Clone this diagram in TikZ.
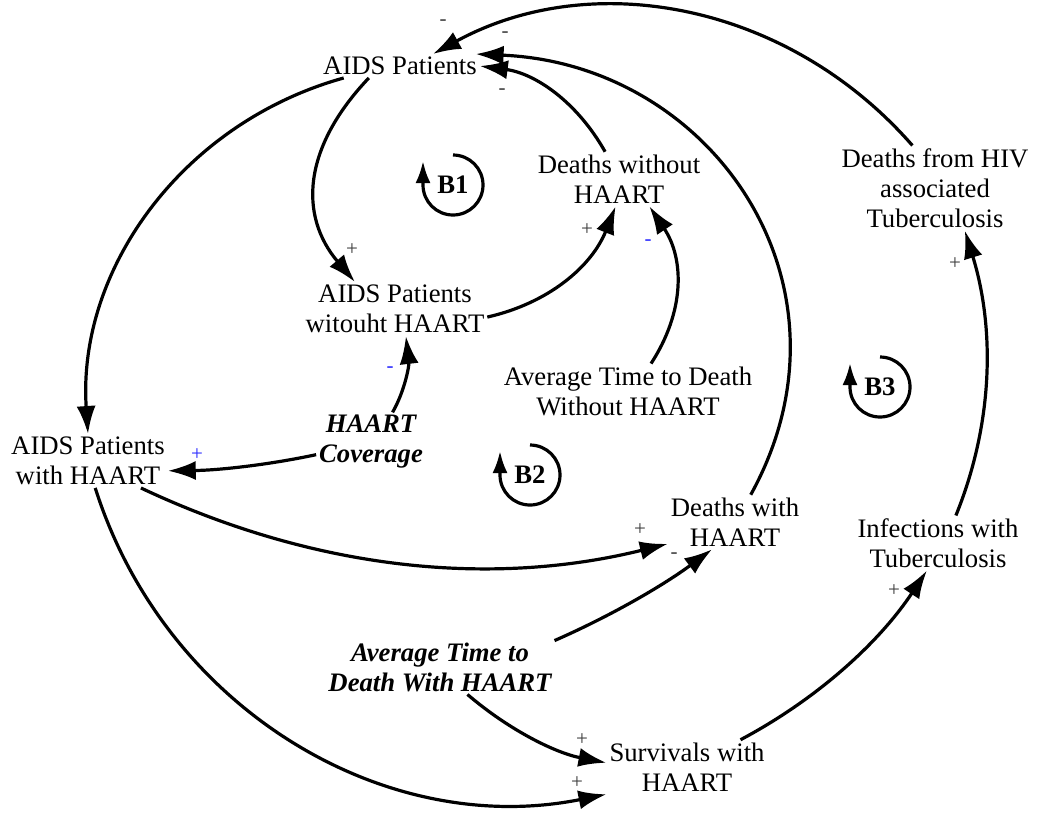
\documentclass[tikz,border=0pt]{standalone}
\usepackage{fontspec}
\setmainfont{Liberation Serif}
\usetikzlibrary{arrows.meta,calc}
\definecolor{signgray}{RGB}{60,60,60}
\definecolor{signblue}{RGB}{40,40,255}
% quadratic-style curve from anchor #1 via control #2 to anchor #3
\newcommand{\qlink}[3]{\draw[link] (#1) .. controls ($(#1)!0.6667!(#2)$) and ($(#3)!0.6667!(#2)$) .. (#3);}
% cubic curve from anchor #1 with controls #2, #3 to anchor #4
\newcommand{\clink}[4]{\draw[link] (#1) .. controls (#2) and (#3) .. (#4);}
\begin{document}
\begin{tikzpicture}[x=1pt,y=-1pt,
  var/.style={align=center,inner sep=3pt,outer sep=0pt,font=\fontsize{26.7}{30}\selectfont},
  varb/.style={var,font=\fontsize{26.7}{30}\selectfont\bfseries\itshape},
  link/.style={line width=3.2pt,-{Latex[length=28pt,width=19pt]}},
  sgn/.style={inner sep=0pt,font=\fontsize{21}{24}\selectfont,text=signgray},
  sgnb/.style={sgn,text=signblue},
  looplbl/.style={font=\fontsize{26.7}{30}\selectfont\bfseries,inner sep=0pt},
  looparr/.style={line width=3.2pt,-{Latex[length=22pt,width=15pt]}}]
\useasboundingbox (0,0) rectangle (1051,812);

% variables
\node[var] (aids) at (400,66) {AIDS Patients};
\node[var] (dwo) at (619,179) {Deaths without\\HAART};
\node[var] (awo) at (395,309) {AIDS Patients\\witouht HAART};
\node[var] (dhiv) at (935,188) {Deaths from HIV\\associated\\Tuberculosis};
\node[var] (atwo) at (628,391) {Average Time to Death\\Without HAART};
\node[var] (aw) at (88,461) {AIDS Patients\\with HAART};
\node[varb] (hc) at (371,442) {HAART\\Coverage};
\node[var] (dw) at (735,522) {Deaths with\\HAART};
\node[var] (iwt) at (938,543) {Infections with\\Tuberculosis};
\node[varb] (atw) at (440,667) {Average Time to\\Death With HAART};
\node[var] (sw) at (687,767) {Survivals with\\HAART};

% links
\clink{aids.192}{182,123}{77,270}{aw.north}
\qlink{aids.201}{270,182}{awo.146}
\clink{dhiv.118}{788,3}{592,-33}{aids.20}
\clink{dw.60}{866,286}{713,64}{aids.9}
\qlink{dwo.117}{563,77}{aids.east}
\qlink{awo.-5}{580,296}{dwo.-97}
\qlink{atwo.50}{702,285}{dwo.-42}
\qlink{hc.54}{411,380}{awo.-68}
\qlink{hc.193}{244,470}{aw.-7}
\qlink{aw.-27}{400,610}{dw.198}
\qlink{atw.13}{638,604}{dw.230}
\clink{aw.-75}{165,708}{384,839}{sw.south west}
\qlink{atw.-45}{530,748}{sw.177}
\qlink{sw.27}{855,679}{iwt.-112}
\qlink{iwt.57}{1011,380}{dhiv.-55}

% polarity signs
\node[sgn] (s1) at (443,23) {-};
\node[sgn] (s2) at (505,35) {-};
\node[sgn] (s3) at (502,92) {-};
\node[sgn] (s4) at (352,250) {+};
\node[sgn] (s5) at (587,230) {+};
\node[sgnb] (s6) at (648,243) {-};
\node[sgnb] (s7) at (390,370) {-};
\node[sgnb] (s8) at (197,455) {+};
\node[sgn] (s9) at (640,530) {+};
\node[sgn] (s10) at (674,556) {-};
\node[sgn] (s11) at (582,740) {+};
\node[sgn] (s12) at (577,783) {+};
\node[sgn] (s13) at (894,591) {+};
\node[sgn] (s14) at (955,264) {+};

% loop markers
\node[looplbl] (B1) at (453,185) {B1};
\draw[looparr] ($(B1)+(0,-30)$) arc[start angle=90,end angle=-180,radius=30pt] -- ++(0,-24);
\node[looplbl] (B2) at (530,475) {B2};
\draw[looparr] ($(B2)+(0,-30)$) arc[start angle=90,end angle=-180,radius=30pt] -- ++(0,-24);
\node[looplbl] (B3) at (880,387) {B3};
\draw[looparr] ($(B3)+(0,-30)$) arc[start angle=90,end angle=-180,radius=30pt] -- ++(0,-24);
\end{tikzpicture}
\end{document}
